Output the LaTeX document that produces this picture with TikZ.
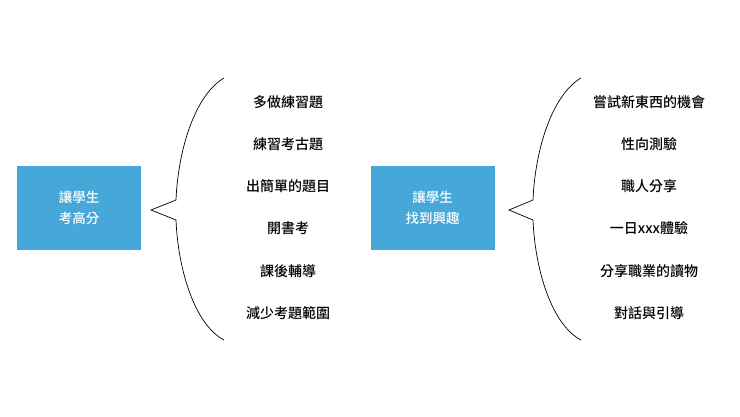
\documentclass[tikz,border=0pt]{standalone}
\usepackage{fontspec}
\newfontfamily\cjk{Noto Sans CJK TC Medium}
\begin{document}
\begin{tikzpicture}[x=1pt,y=-1pt,
  box/.style={fill=boxblue,text=white,minimum width=124pt,minimum height=84pt,align=center,font=\cjk\fontsize{13.5}{21}\selectfont,inner sep=0pt},
  item/.style={font=\cjk\fontsize{14}{16}\selectfont,text=black,inner sep=1pt},
  brace/.style={draw=black,line width=0.7pt}]
\definecolor{boxblue}{HTML}{45A8D8}
\useasboundingbox (0,0) rectangle (740,416);
\node[box] (L) at (79,208) {讓學生\\考高分};
\node[box] (R) at (432.5,208) {讓學生\\找到興趣};
\coordinate (lt) at (224,78); \coordinate (lb) at (224,340); \coordinate (ltip) at (151,210);
\draw[brace] (lt) .. controls (195,95) and (178,150) .. (176,200) -- (ltip) -- (176,220) .. controls (178,270) and (195,325) .. (lb);
\coordinate (rt) at (581,78); \coordinate (rb) at (581,340); \coordinate (rtip) at (509,210);
\draw[brace] (rt) .. controls (552,95) and (535,150) .. (533,200) -- (rtip) -- (533,220) .. controls (535,270) and (552,325) .. (rb);
\foreach \t [count=\i] in {多做練習題,練習考古題,出簡單的題目,開書考,課後輔導,減少考題範圍}
  \node[item] (a\i) at (288,{102+42.2*(\i-1)}) {\t};
\foreach \t [count=\i] in {嘗試新東西的機會,性向測驗,職人分享,一日xxx體驗,分享職業的讀物,對話與引導}
  \node[item] (b\i) at (649,{102+42.2*(\i-1)}) {\t};
\end{tikzpicture}
\end{document}
